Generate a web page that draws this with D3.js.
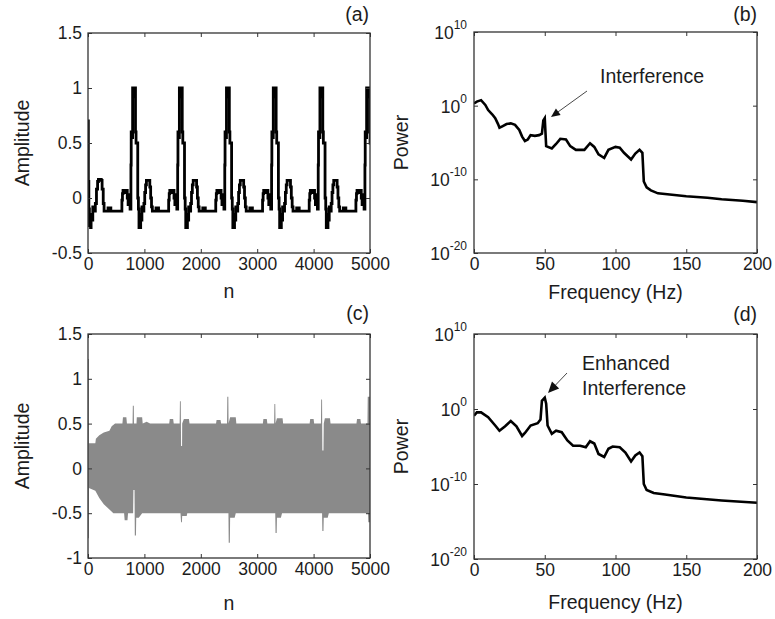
<!DOCTYPE html>
<html>
<head>
<meta charset="utf-8">
<script src="https://cdn.jsdelivr.net/npm/d3@7"></script>
<style>
  body { margin: 0; background: #fff; }
  svg { display: block; }
</style>
</head>
<body>
<svg id="chart" width="775" height="619"></svg>
<script>
// ---- data ----
// (a) clean ECG: partial first beat, one beat shape (offset from R peak, amplitude), R peak positions
const ecgStart = [[0, 0.7], [6, 0.15], [15, -0.1], [25, -0.25], [45, -0.27], [55, -0.15], [70, -0.2],
  [85, -0.08], [100, -0.12], [130, -0.05], [150, 0.08], [170, 0.15], [185, 0.17], [235, 0.16],
  [250, 0.08], [270, -0.05], [285, -0.12], [340, -0.12], [355, -0.09], [390, -0.09], [405, -0.12]];
const beatShape = [[-230, -0.12], [-215, -0.02], [-205, 0.04], [-195, 0.07], [-160, 0.05], [-145, 0.07],
  [-120, 0.0], [-105, -0.06], [-95, 0.03], [-85, -0.04], [-70, -0.1], [-55, 0.3], [-50, 0.6],
  [-35, 0.55], [-25, 1.0], [-12, 0.92], [-5, 1.0], [12, 0.96], [18, 1.0], [26, 0.6], [36, 0.5],
  [60, 0.5], [66, 0.0], [78, -0.1], [88, -0.27], [100, -0.22], [108, -0.27], [118, -0.15],
  [130, -0.2], [140, -0.08], [150, -0.12], [175, -0.05], [190, 0.05], [205, 0.12], [220, 0.16],
  [265, 0.16], [280, 0.1], [295, 0.0], [310, -0.08], [325, -0.12], [375, -0.12], [390, -0.09],
  [420, -0.09], [435, -0.12]];
const rPeaks = [816, 1645, 2480, 3310, 4137, 4965];

// (c) noisy ECG, drawn as its envelope (upper and lower edges of the grey band)
const noisyUpper = [[0, 1.22], [15, 1.22], [16, 0.28], [130, 0.28], [140, 0.33], [200, 0.37], [280, 0.4],
  [380, 0.42], [420, 0.47], [480, 0.5], [610, 0.5], [620, 0.57], [680, 0.57], [690, 0.5], [790, 0.5],
  [795, 0.7], [812, 0.7], [815, 0.5], [860, 0.5], [865, 0.57], [960, 0.57], [970, 0.5], [1040, 0.52],
  [1100, 0.5], [1440, 0.5], [1450, 0.55], [1510, 0.55], [1520, 0.5], [1625, 0.5], [1630, 0.75],
  [1645, 0.75], [1650, 0.25], [1668, 0.25], [1670, 0.5], [1700, 0.55], [1790, 0.55], [1800, 0.5],
  [2270, 0.5], [2280, 0.54], [2350, 0.54], [2360, 0.5], [2465, 0.5], [2470, 0.8], [2488, 0.8],
  [2492, 0.5], [2520, 0.57], [2620, 0.57], [2630, 0.5], [3100, 0.5], [3110, 0.55], [3170, 0.55],
  [3180, 0.5], [3300, 0.5], [3305, 0.72], [3320, 0.72], [3325, 0.5], [3350, 0.56], [3450, 0.56],
  [3460, 0.5], [3930, 0.5], [3940, 0.55], [4000, 0.55], [4010, 0.5], [4130, 0.5], [4135, 0.77],
  [4150, 0.77], [4155, 0.2], [4175, 0.2], [4180, 0.5], [4200, 0.56], [4290, 0.56], [4300, 0.5],
  [4760, 0.5], [4770, 0.55], [4830, 0.55], [4840, 0.5], [4955, 0.5], [4960, 0.8], [5000, 0.8]];
const noisyLower = [[0, -0.78], [15, -0.78], [16, -0.22], [130, -0.25], [200, -0.33], [280, -0.4],
  [380, -0.46], [450, -0.5], [640, -0.5], [650, -0.58], [700, -0.58], [710, -0.5], [800, -0.5],
  [805, -0.24], [825, -0.24], [830, -0.75], [850, -0.75], [855, -0.55], [900, -0.55], [960, -0.5],
  [1640, -0.5], [1650, -0.6], [1665, -0.6], [1670, -0.53], [1750, -0.53], [1760, -0.5],
  [2490, -0.5], [2495, -0.83], [2515, -0.83], [2520, -0.55], [2600, -0.55], [2620, -0.5],
  [3320, -0.5], [3325, -0.72], [3345, -0.72], [3350, -0.55], [3420, -0.55], [3440, -0.5],
  [4150, -0.5], [4155, -0.7], [4175, -0.7], [4180, -0.55], [4250, -0.55], [4270, -0.5],
  [4965, -0.5], [4970, -0.6], [5000, -0.6]];

// (b),(d) power spectra: [frequency Hz, log10(power)]
const psdClean = [[0, 0.3], [2, 0.55], [5, 0.75], [8, 0.1], [10, -0.6], [13, -1.2], [15, -1.7], [17, -2.5],
  [18, -3.0], [20, -2.8], [23, -2.5], [26, -2.4], [29, -2.6], [32, -3.3], [34, -4.2], [36, -4.8],
  [38, -4.6], [40, -4.0], [43, -4.1], [46, -4.0], [48, -3.8], [49, -2.0], [50, -1.7], [51, -5.5],
  [55, -5.8], [58, -5.2], [61, -4.5], [65, -4.6], [68, -5.5], [72, -6.0], [78, -6.0], [82, -5.1],
  [85, -5.6], [88, -6.6], [92, -7.1], [95, -6.0], [100, -5.6], [103, -5.7], [106, -6.4], [111, -7.3],
  [114, -6.5], [117, -6.0], [119, -6.4], [120, -10.3], [122, -11.1], [125, -11.5], [130, -11.9],
  [140, -12.1], [150, -12.3], [165, -12.5], [175, -12.7], [190, -12.9], [200, -13.1]];
const psdNoisy = [[0, -0.9], [2, -0.45], [5, -0.45], [10, -1.1], [15, -2.2], [18, -2.9], [22, -2.3],
  [26, -1.6], [30, -2.3], [34, -3.6], [36, -3.2], [40, -2.2], [45, -1.9], [47, -1.4], [48, 1.1],
  [50, 1.5], [51, 0.7], [52, -2.2], [55, -3.3], [58, -2.9], [62, -3.1], [66, -4.2], [70, -4.9],
  [75, -4.9], [79, -5.1], [82, -4.3], [85, -4.6], [88, -6.0], [92, -6.4], [95, -5.3], [98, -5.0],
  [103, -5.1], [107, -5.8], [111, -7.0], [114, -6.2], [117, -5.8], [119, -6.3], [120, -10.0],
  [122, -10.8], [127, -11.2], [135, -11.4], [150, -11.8], [175, -12.2], [200, -12.5]];

const timeTicks = [0, 1000, 2000, 3000, 4000, 5000];
const ampTicksA = [-0.5, 0, 0.5, 1, 1.5];
const ampTicksC = [-1, -0.5, 0, 0.5, 1, 1.5];
const freqTicks = [0, 50, 100, 150, 200];
const powerExps = [-20, -10, 0, 10];

// ---- drawing ----
const FONT = '"Liberation Sans", Arial, Helvetica, sans-serif';
const INK = "#1c1c1c";
const TITLE = 19.5;
const svg = d3.select("#chart");
svg.append("rect").attr("width", 775).attr("height", 619).attr("fill", "#fff");

const panels = {
  a: { x0: 88, x1: 370, y0: 33, y1: 253 },
  b: { x0: 474, x1: 757, y0: 32, y1: 253 },
  c: { x0: 88, x1: 370, y0: 334, y1: 558 },
  d: { x0: 474, x1: 757, y0: 334, y1: 559 },
};

function styleAxis(g) {
  g.select(".domain").remove();
  g.selectAll(".tick line").attr("stroke", "#333").attr("stroke-width", 1);
  g.selectAll(".tick text").attr("font-family", FONT).attr("font-size", 17.5).attr("fill", INK);
}

function drawAxes(p, x, y, xTicks, yTicks, logY) {
  const g = svg.append("g");
  g.append("g").attr("transform", `translate(0,${p.y1})`)
    .call(d3.axisBottom(x).tickValues(xTicks).tickSize(-4).tickPadding(5).tickFormat(d3.format("d")))
    .call(styleAxis);
  g.append("g").attr("transform", `translate(0,${p.y0})`)
    .call(d3.axisTop(x).tickValues(xTicks).tickSize(-4).tickFormat(""))
    .call(styleAxis);
  const left = d3.axisLeft(y).tickValues(yTicks).tickSize(-4).tickPadding(6);
  left.tickFormat(logY ? () => "" : d => String(d));
  g.append("g").attr("transform", `translate(${p.x0},0)`).call(left).call(styleAxis);
  g.append("g").attr("transform", `translate(${p.x1},0)`)
    .call(d3.axisRight(y).tickValues(yTicks).tickSize(-4).tickFormat(""))
    .call(styleAxis);

  if (logY) {
    yTicks.forEach(v => {
      const t = g.append("text")
        .attr("x", p.x0 - 7).attr("y", y(v) + 7)
        .attr("text-anchor", "end")
        .attr("font-family", FONT).attr("fill", INK);
      t.append("tspan").attr("font-size", 17.5).text("10");
      t.append("tspan").attr("font-size", 12).attr("dy", -10).text(Math.round(Math.log10(v)));
    });
  }

  g.append("rect")
    .attr("x", p.x0).attr("y", p.y0)
    .attr("width", p.x1 - p.x0).attr("height", p.y1 - p.y0)
    .attr("fill", "none").attr("stroke", "#333").attr("stroke-width", 1.3);
}

function addText(x, y, str, opts = {}) {
  const t = svg.append("text")
    .attr("x", x).attr("y", y)
    .attr("font-family", FONT)
    .attr("font-size", opts.size || TITLE)
    .attr("fill", INK)
    .attr("text-anchor", opts.anchor || "middle")
    .text(str);
  if (opts.rotate) t.attr("transform", `rotate(-90,${x},${y})`);
  return t;
}

function clipFor(id, p) {
  svg.append("clipPath").attr("id", "clip-" + id)
    .append("rect").attr("x", p.x0).attr("y", p.y0)
    .attr("width", p.x1 - p.x0).attr("height", p.y1 - p.y0);
  return `url(#clip-${id})`;
}

function arrow(x1, y1, x2, y2, head) {
  const ang = Math.atan2(y2 - y1, x2 - x1);
  svg.append("line")
    .attr("x1", x1).attr("y1", y1).attr("x2", x2 - Math.cos(ang) * head * 0.8).attr("y2", y2 - Math.sin(ang) * head * 0.8)
    .attr("stroke", "#333").attr("stroke-width", 0.9);
  const w = head * 0.45;
  const bx = x2 - Math.cos(ang) * head, by = y2 - Math.sin(ang) * head;
  svg.append("path")
    .attr("d", `M${x2},${y2}L${bx - Math.sin(ang) * w},${by + Math.cos(ang) * w}L${bx + Math.sin(ang) * w},${by - Math.cos(ang) * w}Z`)
    .attr("fill", "#111");
}

// (a) clean ECG
{
  const p = panels.a;
  const x = d3.scaleLinear().domain([0, 5000]).range([p.x0, p.x1]);
  const y = d3.scaleLinear().domain([-0.5, 1.5]).range([p.y1, p.y0]);
  const ecg = ecgStart.slice();
  rPeaks.forEach(r => beatShape.forEach(([o, v]) => ecg.push([r + o, v])));
  svg.append("path")
    .datum(ecg)
    .attr("clip-path", clipFor("a", p))
    .attr("fill", "none").attr("stroke", "#000").attr("stroke-width", 2.8)
    .attr("stroke-linejoin", "miter")
    .attr("d", d3.line().x(d => x(d[0])).y(d => y(d[1])).curve(d3.curveStepAfter));
  drawAxes(p, x, y, timeTicks, ampTicksA, false);
  addText((p.x0 + p.x1) / 2, 298, "n");
  addText(29, (p.y0 + p.y1) / 2, "Amplitude", { rotate: true });
  addText(369, 21, "(a)", { anchor: "end" });
}

// (b) clean spectrum
{
  const p = panels.b;
  const x = d3.scaleLinear().domain([0, 200]).range([p.x0, p.x1]);
  const y = d3.scaleLog().domain([1e-20, 1e10]).range([p.y1, p.y0]);
  svg.append("path")
    .datum(psdClean)
    .attr("clip-path", clipFor("b", p))
    .attr("fill", "none").attr("stroke", "#000").attr("stroke-width", 2.6)
    .attr("d", d3.line().x(d => x(d[0])).y(d => y(Math.pow(10, d[1]))));
  drawAxes(p, x, y, freqTicks, powerExps.map(e => Math.pow(10, e)), true);
  addText((p.x0 + p.x1) / 2, 299, "Frequency (Hz)");
  addText(408, (p.y0 + p.y1) / 2, "Power", { rotate: true });
  addText(757, 21, "(b)", { anchor: "end" });
  addText(600, 83, "Interference", { anchor: "start" });
  arrow(587, 91, 551, 117, 9);
}

// (c) noisy ECG
{
  const p = panels.c;
  const x = d3.scaleLinear().domain([0, 5000]).range([p.x0, p.x1]);
  const y = d3.scaleLinear().domain([-1, 1.5]).range([p.y1, p.y0]);
  const clip = clipFor("c", p);
  svg.append("path")
    .datum(noisyUpper)
    .attr("clip-path", clip).attr("fill", "#8a8a8a")
    .attr("d", d3.area().x(d => x(d[0])).y0(y(-0.05)).y1(d => y(d[1])));
  svg.append("path")
    .datum(noisyLower)
    .attr("clip-path", clip).attr("fill", "#8a8a8a")
    .attr("d", d3.area().x(d => x(d[0])).y0(y(0.05)).y1(d => y(d[1])));
  drawAxes(p, x, y, timeTicks, ampTicksC, false);
  addText((p.x0 + p.x1) / 2, 610, "n");
  addText(29, (p.y0 + p.y1) / 2, "Amplitude", { rotate: true });
  addText(369, 320, "(c)", { anchor: "end" });
}

// (d) noisy spectrum
{
  const p = panels.d;
  const x = d3.scaleLinear().domain([0, 200]).range([p.x0, p.x1]);
  const y = d3.scaleLog().domain([1e-20, 1e10]).range([p.y1, p.y0]);
  svg.append("path")
    .datum(psdNoisy)
    .attr("clip-path", clipFor("d", p))
    .attr("fill", "none").attr("stroke", "#000").attr("stroke-width", 2.6)
    .attr("d", d3.line().x(d => x(d[0])).y(d => y(Math.pow(10, d[1]))));
  drawAxes(p, x, y, freqTicks, powerExps.map(e => Math.pow(10, e)), true);
  addText((p.x0 + p.x1) / 2, 609, "Frequency (Hz)");
  addText(408, (p.y0 + p.y1) / 2, "Power", { rotate: true });
  addText(757, 321, "(d)", { anchor: "end" });
  addText(582, 370, "Enhanced", { anchor: "start" });
  addText(582, 395, "Interference", { anchor: "start" });
  arrow(567, 373, 548, 393, 11);
}
</script>
</body>
</html>
